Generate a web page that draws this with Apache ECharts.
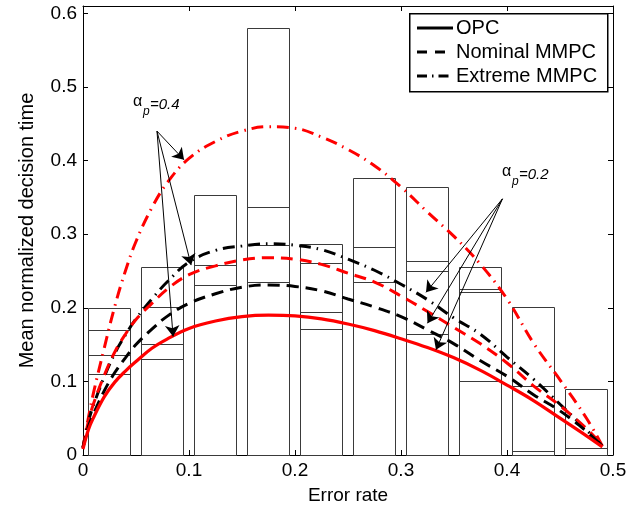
<!DOCTYPE html>
<html>
<head>
<meta charset="utf-8">
<script src="https://cdn.jsdelivr.net/npm/echarts@6/dist/echarts.min.js"></script>
<style>
  html, body { margin: 0; padding: 0; background: #fff; }
  #chart { width: 644px; height: 511px; }
</style>
</head>
<body>
<div id="chart"></div>
<script>
// x grid of the curves (error rate)
const xs = [0, 0.005, 0.01, 0.02, 0.03, 0.04, 0.05, 0.065, 0.08, 0.1, 0.125, 0.15, 0.175, 0.2,
  0.225, 0.25, 0.275, 0.3, 0.325, 0.35, 0.375, 0.4, 0.425, 0.45, 0.475, 0.49];

// curves
const opc = [0.008, 0.034, 0.051, 0.079, 0.099, 0.114, 0.127, 0.145, 0.158, 0.172, 0.182, 0.188, 0.190, 0.189,
  0.185, 0.178, 0.169, 0.158, 0.146, 0.132, 0.115, 0.095, 0.074, 0.050, 0.026, 0.011];
const nominal02 = [0.010, 0.038, 0.056, 0.087, 0.112, 0.132, 0.150, 0.171, 0.189, 0.206, 0.219, 0.228, 0.231, 0.229,
  0.223, 0.212, 0.201, 0.188, 0.170, 0.151, 0.128, 0.107, 0.082, 0.060, 0.032, 0.012];
const nominal04 = [0.010, 0.045, 0.070, 0.108, 0.140, 0.164, 0.184, 0.206, 0.226, 0.245, 0.257, 0.265, 0.268, 0.266,
  0.259, 0.247, 0.235, 0.216, 0.195, 0.173, 0.151, 0.125, 0.094, 0.067, 0.036, 0.013];
const extreme02 = [0.010, 0.045, 0.068, 0.106, 0.138, 0.163, 0.185, 0.212, 0.236, 0.262, 0.278, 0.284, 0.287, 0.285,
  0.279, 0.266, 0.251, 0.232, 0.211, 0.186, 0.164, 0.133, 0.103, 0.069, 0.034, 0.012];
const extreme04 = [0.010, 0.050, 0.085, 0.145, 0.202, 0.250, 0.290, 0.336, 0.371, 0.403, 0.426, 0.440, 0.446, 0.444,
  0.432, 0.415, 0.393, 0.364, 0.330, 0.297, 0.259, 0.212, 0.152, 0.102, 0.050, 0.012];

// histogram bins (centres) and the outlined levels drawn in each bin
const binCenters = [0.025, 0.075, 0.125, 0.175, 0.225, 0.275, 0.325, 0.375, 0.425, 0.475];
const binHalf = 0.02;
const level1 = [0.200, 0.256, 0.353, 0.580, 0.286, 0.377, 0.364, 0.255, 0.201, 0.089];
const level2 = [0.170, 0.201, 0.258, 0.337, 0.261, 0.282, 0.263, 0.225, 0.094, 0.010];
const level3 = [0.136, 0.151, 0.231, 0.285, 0.194, 0.235, 0.250, 0.221, 0.005, null];
const level4 = [0.110, 0.130, null, 0.235, 0.171, null, 0.165, 0.101, null, null];

// arrows: [fromX, fromY, toX, toY]
const arrows04 = [[0.0698, 0.440, 0.0953, 0.401], [0.0698, 0.440, 0.102, 0.258], [0.0698, 0.440, 0.085, 0.161]];
const arrows02 = [[0.3957, 0.348, 0.3236, 0.221], [0.3957, 0.348, 0.325, 0.179], [0.3957, 0.348, 0.333, 0.143]];

const xTicks = [0, 0.1, 0.2, 0.3, 0.4, 0.5];
const yTicks = [0, 0.1, 0.2, 0.3, 0.4, 0.5, 0.6];
const legendNames = ['OPC', 'Nominal MMPC', 'Extreme MMPC'];
const legendDash = [null, [10, 8], [10, 5, 1.5, 5]];

const FONT = 'Liberation Sans, Arial, Helvetica, sans-serif';
const RED = '#ff0000';
const DASH = [12, 7];
const DASHDOT = [12, 6, 1.5, 6];

function pairs(ys) {
  return xs.map((x, i) => [x, ys[i]]);
}

const rects = [];
[level1, level2, level3, level4].forEach(lv => {
  lv.forEach((h, i) => {
    if (h != null) rects.push([binCenters[i] - binHalf, binCenters[i] + binHalf, h]);
  });
});

const arrowLines = arrows04.concat(arrows02).map(a => [
  { coord: [a[0], a[1]] },
  { coord: [a[2], a[3]] }
]);

// legend drawn by hand so the keys are plain black lines
const legendGraphic = [{
  type: 'rect', left: 409, top: 13, z: 100,
  shape: { width: 198, height: 78 },
  style: { fill: '#fff', stroke: '#000', lineWidth: 1.5 }
}];
legendNames.forEach((name, i) => {
  const y = 28 + i * 24;
  legendGraphic.push({
    type: 'line', z: 101,
    shape: { x1: 417, y1: y, x2: 453, y2: y },
    style: { stroke: '#000', lineWidth: 3, lineDash: legendDash[i] }
  });
  legendGraphic.push({
    type: 'text', z: 101, x: 456, y: y,
    style: { text: name, fontSize: 20, fontFamily: FONT, fill: '#000', verticalAlign: 'middle' }
  });
});

const myChart = echarts.init(document.getElementById('chart'));

const axisCommon = {
  type: 'value',
  splitLine: { show: false },
  axisLine: { show: true, onZero: false, lineStyle: { color: '#000', width: 1 } },
  axisTick: { show: true, inside: true, length: 5, lineStyle: { color: '#000' } }
};

const option = {
  animation: false,
  backgroundColor: '#fff',
  grid: { left: 83, right: 31, top: 6, bottom: 56 },
  xAxis: [
    Object.assign({}, axisCommon, {
      min: 0, max: 0.5, interval: 0.1, position: 'bottom',
      name: 'Error rate', nameLocation: 'middle', nameGap: 31,
      nameTextStyle: { color: '#000', fontSize: 19, fontFamily: FONT },
      axisLabel: {
        color: '#000', fontSize: 19, fontFamily: FONT, margin: 6,
        formatter: v => (xTicks.indexOf(+v.toFixed(2)) >= 0 ? String(+v.toFixed(2)) : '')
      }
    }),
    Object.assign({}, axisCommon, {
      min: 0, max: 0.5, interval: 0.1, position: 'top', axisLabel: { show: false }
    })
  ],
  yAxis: [
    Object.assign({}, axisCommon, {
      min: 0, max: 0.61, interval: 0.1, position: 'left',
      name: 'Mean normalized decision time', nameLocation: 'middle', nameGap: 46,
      nameTextStyle: { color: '#000', fontSize: 20, fontFamily: FONT },
      axisLabel: {
        color: '#000', fontSize: 19, fontFamily: FONT, margin: 6, showMaxLabel: false,
        formatter: v => (yTicks.indexOf(+v.toFixed(2)) >= 0 ? String(+v.toFixed(2)) : '')
      }
    }),
    Object.assign({}, axisCommon, {
      min: 0, max: 0.61, interval: 0.1, position: 'right', axisLabel: { show: false }
    })
  ],
  series: [
    {
      type: 'custom',
      name: 'bins',
      silent: true,
      z: 1,
      data: rects,
      encode: { x: [0, 1], y: 2 },
      renderItem: (params, api) => {
        const p0 = api.coord([api.value(0), api.value(2)]);
        const p1 = api.coord([api.value(1), 0]);
        return {
          type: 'rect',
          shape: { x: Math.round(p0[0]) + 0.5, y: Math.round(p0[1]) + 0.5,
            width: Math.round(p1[0] - p0[0]), height: Math.round(p1[1] - p0[1]) },
          style: { fill: 'none', stroke: '#3a3a3a', lineWidth: 1 }
        };
      }
    },
    {
      type: 'line', name: 'extreme 0.4', data: pairs(extreme04), smooth: 0.4, symbol: 'none', z: 3,
      lineStyle: { color: RED, width: 3, type: DASHDOT }
    },
    {
      type: 'line', name: 'extreme 0.2', data: pairs(extreme02), smooth: 0.4, symbol: 'none', z: 3,
      lineStyle: { color: '#000', width: 3, type: DASHDOT }
    },
    {
      type: 'line', name: 'nominal 0.4', data: pairs(nominal04), smooth: 0.4, symbol: 'none', z: 3,
      lineStyle: { color: RED, width: 3, type: DASH }
    },
    {
      type: 'line', name: 'nominal 0.2', data: pairs(nominal02), smooth: 0.4, symbol: 'none', z: 3,
      lineStyle: { color: '#000', width: 3, type: DASH }
    },
    {
      type: 'line', name: 'opc curve', data: pairs(opc), smooth: 0.4, symbol: 'none', z: 4,
      lineStyle: { color: RED, width: 3.2, type: 'solid' },
      markLine: {
        silent: true,
        symbol: ['none', 'arrow'],
        symbolSize: 11,
        precision: 4,
        label: { show: false },
        emphasis: { disabled: true },
        lineStyle: { color: '#000', width: 1, type: 'solid' },
        data: arrowLines
      }
    }
  ],
  graphic: legendGraphic.concat([
    { type: 'text', left: 133, top: 94, style: { text: 'α', fontSize: 16, fontFamily: FONT, fill: '#000' } },
    { type: 'text', left: 143, top: 106, style: { text: 'p', fontSize: 12, fontStyle: 'italic', fontFamily: FONT, fill: '#000' } },
    { type: 'text', left: 150, top: 97, style: { text: '=0.4', fontSize: 15, fontStyle: 'italic', fontFamily: FONT, fill: '#000' } },
    { type: 'text', left: 502, top: 164, style: { text: 'α', fontSize: 16, fontFamily: FONT, fill: '#000' } },
    { type: 'text', left: 512, top: 176, style: { text: 'p', fontSize: 12, fontStyle: 'italic', fontFamily: FONT, fill: '#000' } },
    { type: 'text', left: 519, top: 167, style: { text: '=0.2', fontSize: 15, fontStyle: 'italic', fontFamily: FONT, fill: '#000' } }
  ])
};

myChart.setOption(option);
</script>
</body>
</html>
